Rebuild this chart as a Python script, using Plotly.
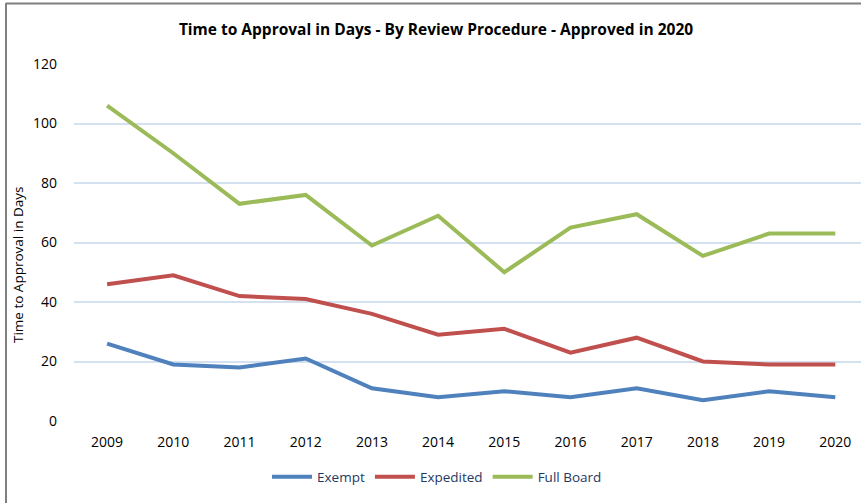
import plotly.graph_objects as go

years = ["2009", "2010", "2011", "2012", "2013", "2014", "2015", "2016", "2017", "2018", "2019", "2020"]
exempt = [26, 19, 18, 21, 11, 8, 10, 8, 11, 7, 10, 8]
expedited = [46, 49, 42, 41, 36, 29, 31, 23, 28, 20, 19, 19]
full_board = [106, 90, 73, 76, 59, 69, 50, 65, 69.5, 55.5, 63, 63]
y_ticks = [0, 20, 40, 60, 80, 100, 120]

FONT = "Open Sans"
W, H = 861, 503
L, R, T, B = 74, 0, 64, 82

fig = go.Figure()
series = [("Exempt", exempt, "#4f81bd"), ("Expedited", expedited, "#c0504d"), ("Full Board", full_board, "#9bbb59")]
for name, vals, col in series:
    fig.add_trace(go.Scatter(x=list(range(len(years))), y=vals, mode="lines", name=name,
                             line=dict(color=col, width=4)))

pw = W - L - R
ph = H - T - B
def px(x):
    return (x - L) / pw
def py(y):
    return (H - B - y) / ph

fig.update_layout(
    width=W, height=H,
    margin=dict(l=L, r=R, t=T, b=B),
    paper_bgcolor="white", plot_bgcolor="white",
    font=dict(family=FONT, size=14, color="#000000"),
    title=dict(text="<b>Time to Approval in Days - By Review Procedure - Approved in 2020</b>",
               x=px(436), xref="paper", xanchor="center", y=1 - 30 / H, yanchor="middle",
               font=dict(family=FONT, size=15.5, color="#000000")),
    xaxis=dict(range=[-0.5, -0.5 + pw / 66.2], tickmode="array", tickvals=list(range(len(years))),
               ticktext=years, showgrid=False, zeroline=False, showline=False, ticks="",
               ticklabelstandoff=11,
               tickfont=dict(size=14, color="#000000")),
    yaxis=dict(range=[0, 120], tickvals=y_ticks, showgrid=True, gridcolor="#d4e1f1", gridwidth=1.5,
               zeroline=False, showline=False, ticks="", ticklabelstandoff=16,
               tickfont=dict(size=14, color="#000000")),
    legend=dict(orientation="h", x=px(437), xanchor="center", y=py(477), yanchor="middle",
                font=dict(size=13.5, color="#1f3864"), itemwidth=40, tracegroupgap=0,
                bgcolor="rgba(0,0,0,0)"),
    showlegend=True,
)

fig.add_annotation(text="Time to Approval in Days", xref="paper", yref="paper", x=px(18), y=py(265),
                   textangle=-90, showarrow=False, xanchor="center", yanchor="middle",
                   font=dict(size=13.5, color="#000000"))

fig.add_shape(type="line", xref="paper", yref="paper", x0=px(6), x1=px(W), y0=py(3.5), y1=py(3.5),
              line=dict(color="#7f7f7f", width=2))
fig.add_shape(type="line", xref="paper", yref="paper", x0=px(6), x1=px(6), y0=py(3), y1=py(H),
              line=dict(color="#7f7f7f", width=2))

fig.write_html("out.html", config={"displayModeBar": False},
               post_script="document.body.style.margin='0';document.body.style.overflow='hidden';")
